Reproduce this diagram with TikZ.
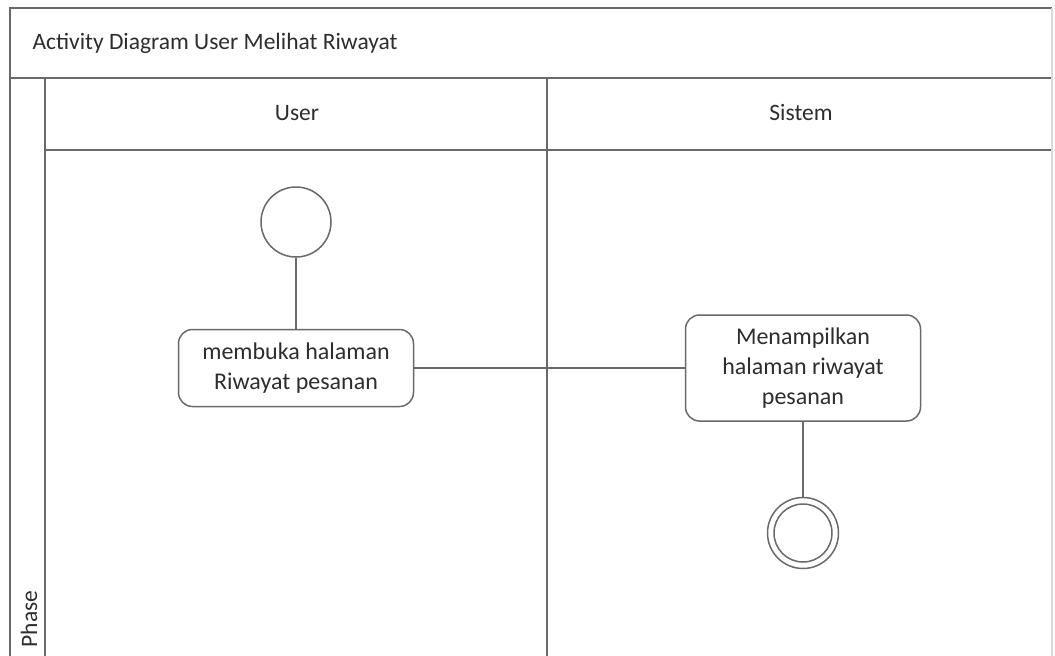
\documentclass[tikz,border=0pt]{standalone}
\usepackage{fontspec}
\setmainfont{Carlito}
\definecolor{lanegray}{RGB}{105,105,105}
\definecolor{inkgray}{RGB}{45,45,45}
\tikzset{
  lane/.style={draw=lanegray,line width=1.5pt},
  act/.style={draw=lanegray,line width=1.5pt,rounded corners=14pt,align=center,
    minimum width=235,font=\fontsize{24}{30}\selectfont,text=inkgray},
  hdr/.style={font=\fontsize{23.5}{28}\selectfont,text=inkgray},
}
\begin{document}
\begin{tikzpicture}[x=1pt,y=-1pt]
	\useasboundingbox (0,0) rectangle (1055,656);
	\draw[lane] (10,656)--(10,8)--(1052,8) (10,78)--(1052,78) (45,78)--(45,656) (45,150)--(1052,150) (547,78)--(547,656);
	\draw[lane,draw=lanegray!25] (1052,8)--(1052,656);
	\node[hdr,anchor=west] (title) at (29,43) {Activity Diagram User Melihat Riwayat};
	\node[hdr] (user) at (297,113) {User};
	\node[hdr] (sistem) at (801,113) {Sistem};
	\node[hdr,rotate=90,anchor=west] (phase) at (29,651) {Phase};
	\node[circle,lane,minimum size=70] (start) at (296,222) {};
	\node[act,minimum height=77] (buka) at (296,368) {membuka halaman\\Riwayat pesanan};
	\node[act,minimum height=106] (tampil) at (803,368) {Menampilkan\\halaman riwayat\\pesanan};
	\node[circle,lane,minimum size=71] (end) at (803,533) {};
	\draw[lane] (end.center) circle[radius=29];
	\draw[lane] (start)--(buka) (buka)--(tampil) (tampil)--(end);
\end{tikzpicture}
\end{document}
